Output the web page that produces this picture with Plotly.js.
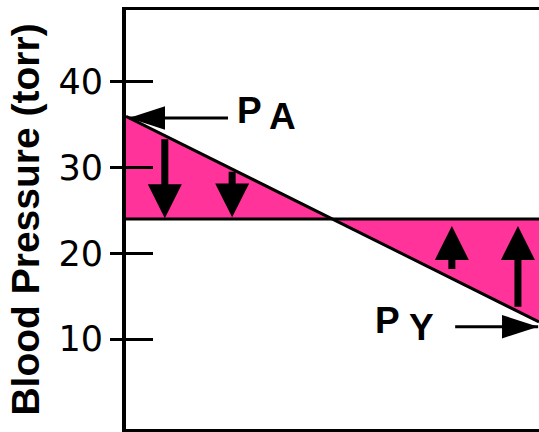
<!DOCTYPE html>
<html>
<head>
<meta charset="utf-8">
<script src="https://cdn.plot.ly/plotly-3.0.1.min.js"></script>
<style>
html,body{margin:0;padding:0;background:#fff;}
#chart{width:539px;height:432px;}
</style>
</head>
<body>
<div id="chart"></div>
<script>
// ---- data ----
const yTickVals = [10, 20, 30, 40];
const yTickText = ['10', '20', '30', '40'];
const lineX = [0, 10];
const pressureLine = [36, 12];        // PA -> PY
const interstitialLine = [24, 24];    // horizontal reference
const downArrowX = [0.94, 2.57];
const downArrowFrom = [33.5, 29.7];
const downArrowTo = [24.1, 24.2];
const upArrowX = [7.89, 9.49];
const upArrowFrom = [18.0, 13.6];
const upArrowTo = [23.2, 23.2];
const paArrow = {tail: [2.47, 35.8], tip: [0.07, 35.8]};
const pyArrow = {tail: [7.97, 11.44], tip: [9.98, 11.44]};
const labelP1 = {text: 'P', x: 3.0, y: 36.7};
const labelA = {text: 'A', x: 3.78, y: 35.95};
const labelP2 = {text: 'P', x: 6.34, y: 12.2};
const labelY = {text: 'Y', x: 7.16, y: 11.35};

const pink = '#FF3399';

const traces = [
  {x: lineX, y: interstitialLine, mode: 'lines', line: {color: '#000', width: 3}, hoverinfo: 'skip', showlegend: false},
  {x: lineX, y: pressureLine, mode: 'lines', line: {color: '#000', width: 3}, fill: 'tonexty', fillcolor: pink, hoverinfo: 'skip', showlegend: false},
  // horizontal arrow shafts
  {x: [paArrow.tail[0], paArrow.tip[0]], y: [paArrow.tail[1], paArrow.tip[1]], mode: 'lines', line: {color: '#000', width: 3}, showlegend: false, hoverinfo: 'skip'},
  {x: [pyArrow.tail[0], pyArrow.tip[0]], y: [pyArrow.tail[1], pyArrow.tip[1]], mode: 'lines', line: {color: '#000', width: 3}, showlegend: false, hoverinfo: 'skip'},
  // horizontal arrow heads
  {x: [paArrow.tip[0], pyArrow.tip[0]], y: [paArrow.tip[1], pyArrow.tip[1]], mode: 'markers',
   marker: {symbol: 'arrow', size: 38, color: '#000', angle: [-90, 90], line: {width: 0}}, showlegend: false, hoverinfo: 'skip', cliponaxis: false}
];

const annotations = [];
function addArrow(x, from, to) {
  annotations.push({x: x, y: to, ax: x, ay: from, axref: 'x', ayref: 'y', xref: 'x', yref: 'y',
    text: '', showarrow: true, arrowhead: 2, arrowwidth: 7, arrowsize: 0.97, arrowcolor: '#000', standoff: 0});
}
downArrowX.forEach((x, i) => addArrow(x, downArrowFrom[i], downArrowTo[i]));
upArrowX.forEach((x, i) => addArrow(x, upArrowFrom[i], upArrowTo[i]));
[labelP1, labelA, labelP2, labelY].forEach(l => {
  annotations.push({x: l.x, y: l.y, xref: 'x', yref: 'y', text: '<b>' + l.text + '</b>', showarrow: false,
    font: {family: 'Liberation Sans, Arial, sans-serif', size: 37, color: '#000'}});
});

const layout = {
  width: 539, height: 432,
  margin: {l: 126, r: 0, t: 10, b: 3, pad: 0},
  paper_bgcolor: '#fff', plot_bgcolor: '#fff',
  showlegend: false,
  xaxis: {range: [0, 10], showline: true, linewidth: 3, linecolor: '#000', mirror: true,
    showgrid: false, zeroline: false, ticks: '', showticklabels: false, fixedrange: true},
  yaxis: {range: [-0.5, 48.4], showline: true, linewidth: 4, linecolor: '#000',
    showgrid: false, zeroline: false, ticks: 'outside', ticklen: 12, tickwidth: 3, tickcolor: '#000',
    tickvals: yTickVals, ticktext: yTickText,
    tickfont: {family: 'DejaVu Sans, sans-serif', size: 35, color: '#000'},
    title: {text: '<b>Blood Pressure (torr)</b>', font: {family: 'Liberation Sans, Arial, sans-serif', size: 39, color: '#000'}, standoff: 8},
    fixedrange: true},
  yaxis2: {range: [-0.5, 48.4], overlaying: 'y', side: 'left', showline: false, showgrid: false, zeroline: false,
    ticks: 'inside', ticklen: 27, tickwidth: 3, tickcolor: '#000', tickvals: yTickVals, showticklabels: false, fixedrange: true},
  annotations: annotations
};

// invisible trace to activate yaxis2 ticks
traces.push({x: [0], y: [0], yaxis: 'y2', mode: 'markers', marker: {opacity: 0}, showlegend: false, hoverinfo: 'skip'});

Plotly.newPlot('chart', traces, layout, {staticPlot: true, displayModeBar: false});
</script>
</body>
</html>
